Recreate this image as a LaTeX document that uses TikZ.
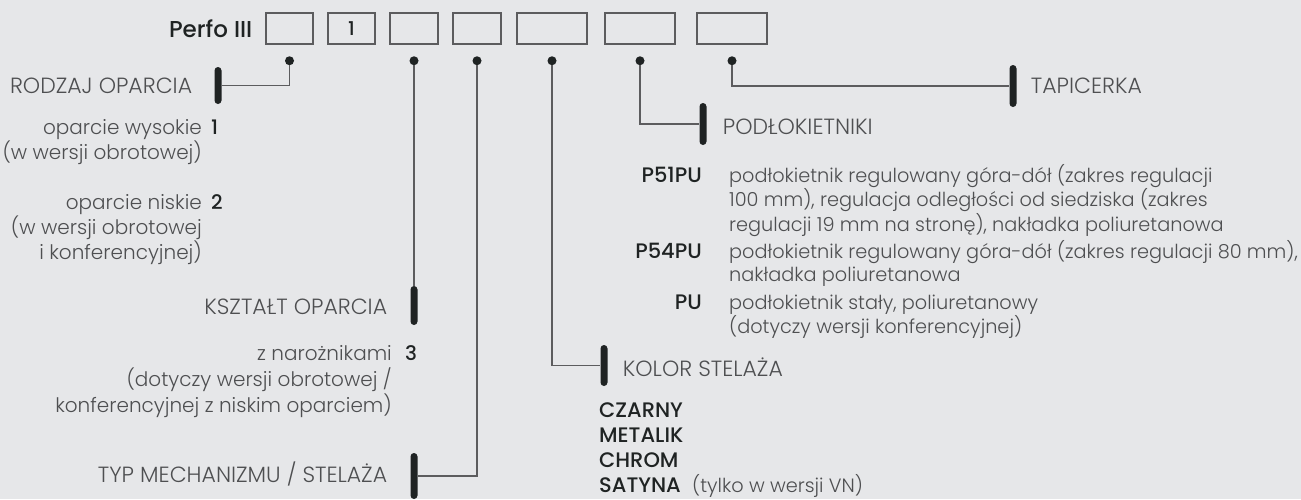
\documentclass[tikz,border=0pt]{standalone}
\usepackage{fontspec}
\IfFontExistsTF{Poppins Light}{%
  \IfFontExistsTF{Poppins Medium}{%
    \setmainfont{Poppins}[UprightFont={* Light}, BoldFont={* Medium}]}{%
    \setmainfont{Poppins}[UprightFont={* Light}]}}{%
  \setmainfont{Poppins}}
\usetikzlibrary{positioning}
\definecolor{bg}{HTML}{E6E7E9}
\definecolor{ink}{HTML}{1F2323}
\definecolor{soft}{HTML}{4E4F51}
\definecolor{wire}{HTML}{5C5C5E}

\begin{document}
\begin{tikzpicture}[x=1pt, y=-1pt,
  every node/.style={inner sep=0pt, text=soft, font=\fontsize{20}{22}\selectfont},
  box/.style={draw=wire, line width=1.1pt, minimum width=47pt, minimum height=31pt, text=ink},
  dot/.style={circle, fill=ink, minimum size=9pt},
  bar/.style={fill=ink, rounded corners=3.5pt, minimum width=7pt},
  link/.style={draw=wire, line width=1.2pt},
  lbl/.style={font=\fontsize{22}{24}\selectfont, text height=15.4pt, text depth=0pt},
  num/.style={text=ink, font=\fontsize{20}{22}\selectfont\bfseries},
  tag/.style={text=ink, font=\fontsize{21}{25.3}\selectfont\bfseries},
  desc/.style={font=\fontsize{19.3}{23}\selectfont}]
	\useasboundingbox (0,0) rectangle (1301,499);
	\fill[bg] (0,0) rectangle (1301,499);
	% code boxes
	\node[box] (b1) at (289.5,28.5) {};
	\node[box] (b2) at (351.5,28.5) {\fontsize{19}{20}\selectfont\bfseries 1};
	\node[box, minimum width=48pt] (b3) at (414,28.5) {};
	\node[box, minimum width=48pt] (b4) at (477,28.5) {};
	\node[box, minimum width=70pt] (b5) at (552,28.5) {};
	\node[box, minimum width=70pt] (b6) at (640,28.5) {};
	\node[box, minimum width=70pt] (b7) at (732,28.5) {};
	\node[text=ink, font=\fontsize{23}{26}\selectfont\bfseries, left=13pt of b1] (perfo) {Perfo III};
	% dots under the boxes
	\node[dot, below=11.5pt of b1] (d1) {};
	\node[dot, below=11.5pt of b3] (d3) {};
	\node[dot, below=11.5pt of b4] (d4) {};
	\node[dot, below=11.5pt of b5] (d5) {};
	\node[dot, below=11.5pt of b6] (d6) {};
	\node[dot, below=11.5pt of b7] (d7) {};
	% bars
	\node[bar, minimum height=37pt] (r1) at (218,85.5) {};
	\node[bar, minimum height=39pt] (r3) at (414,305.5) {};
	\node[bar, minimum height=46pt] (r4) at (414,476) {};
	\node[bar, minimum height=41pt] (r5) at (604,365.5) {};
	\node[bar, minimum height=42pt] (r6) at (703,124) {};
	\node[bar, minimum height=42pt] (r7) at (1013,86) {};
	\draw[link] (d1) |- (r1);
	\draw[link] (d3) -- (r3);
	\draw[link] (d4) |- (r4);
	\draw[link] (d5) |- (r5);
	\draw[link] (d6) |- (r6);
	\draw[link] (d7) |- (r7);
	% headings
	\node[lbl, left=22pt of r1] {RODZAJ OPARCIA};
	\node[lbl, left=23pt of r3, yshift=-1.5pt] {KSZTAŁT OPARCIA};
	\node[lbl, left=23pt of r4, yshift=1pt] {TYP MECHANIZMU / STELAŻA};
	\node[lbl, right=15pt of r5, yshift=-3pt] {KOLOR STELAŻA};
	\node[lbl, right=16pt of r6, yshift=-3pt] {PODŁOKIETNIKI};
	\node[lbl, right=14pt of r7] {TAPICERKA};
	% backrest options
	\node[num, anchor=base west] (n1) at (211,134) {1};
	\node[anchor=base east] (o1) at (202,134) {\begin{tabular}[t]{@{}r@{}}oparcie wysokie\\(w wersji obrotowej)\end{tabular}};
	\node[num, anchor=base west] (n2) at (211,209) {2};
	\node[anchor=base east] (o2) at (202,209) {\begin{tabular}[t]{@{}r@{}}oparcie niskie\\(w wersji obrotowej\\i konferencyjnej)\end{tabular}};
	\node[num, anchor=base west] (n3) at (405,360) {3};
	\node[anchor=base east, font=\fontsize{20}{24.5}\selectfont] (o3) at (392,360) {\begin{tabular}[t]{@{}r@{}}z narożnikami\\(dotyczy wersji obrotowej /\\konferencyjnej z niskim oparciem)\end{tabular}};
	% armrests
	\node[tag, anchor=base east] (p1) at (702,182) {P51PU};
	\node[desc, anchor=base west] (q1) at (729,182) {\begin{tabular}[t]{@{}l@{}}podłokietnik regulowany góra-dół (zakres regulacji\\100 mm), regulacja odległości od siedziska (zakres\\regulacji 19 mm na stronę), nakładka poliuretanowa\end{tabular}};
	\node[tag, anchor=base east] (p2) at (702,258) {P54PU};
	\node[desc, anchor=base west] (q2) at (729,258) {\begin{tabular}[t]{@{}l@{}}podłokietnik regulowany góra-dół (zakres regulacji 80 mm),\\nakładka poliuretanowa\end{tabular}};
	\node[tag, anchor=base east] (p3) at (702,309) {PU};
	\node[desc, anchor=base west] (q3) at (729,309) {\begin{tabular}[t]{@{}l@{}}podłokietnik stały, poliuretanowy\\(dotyczy wersji konferencyjnej)\end{tabular}};
	% frame colours
	\node[tag, anchor=base west] (k1) at (599,417) {\begin{tabular}[t]{@{}l@{}}CZARNY\\METALIK\\CHROM\\SATYNA\end{tabular}};
	\node[desc, anchor=base west] (k2) at (692,492.5) {(tylko w wersji VN)};
\end{tikzpicture}
\end{document}
